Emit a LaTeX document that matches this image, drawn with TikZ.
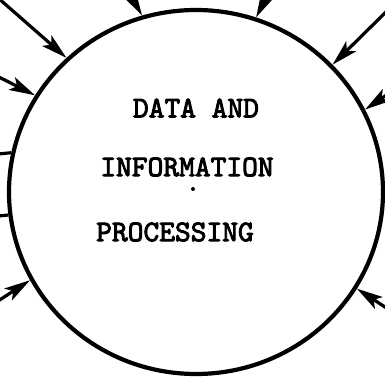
\documentclass[tikz,border=0pt]{standalone}
\usepackage{fontspec}
\usetikzlibrary{shapes.geometric,arrows.meta}
\newfontfamily\twfont[FakeBold=3]{lmmono10-regular.otf}
\begin{document}
\begin{tikzpicture}[x=1pt,y=1pt,
  ring/.style={draw, ellipse, line width=4.2pt, minimum width=374pt, minimum height=364pt, inner sep=0pt},
  arr/.style={line width=3.2pt, -{Stealth[length=26pt,width=14pt,inset=6pt]}},
  wire/.style={line width=3.2pt},
  lbl/.style={inner sep=0pt, font=\twfont\fontsize{30}{36}\selectfont}]
\useasboundingbox (0,0) rectangle (385,377);
\node[ring] (c) at (196,185) {};
\node[lbl] (t1) at (196,269) {DATA AND};
\node[lbl] (t2) at (187,210) {INFORMATION};
\node[lbl] (t3) at (175,145) {PROCESSING};
\fill (193,188) circle (2);
\coordinate (s1) at (-3,380);
\coordinate (s2) at (-4,301.4);
\coordinate (s3) at (132,379);
\coordinate (s4) at (266,379);
\coordinate (s5) at (388,367);
\coordinate (s6) at (388,283);
\coordinate (s7) at (-2,223);
\coordinate (s8) at (-2,161);
\coordinate (s9) at (-2,76);
\coordinate (s10) at (388,68);
\draw[arr] (s1) -- (c.134.3);
\draw[arr] (s2) -- (c.149.9);
\draw[arr] (s3) -- (c.107.6);
\draw[arr] (s4) -- (c.71.1);
\draw[arr] (s5) -- (c.43.3);
\draw[arr] (s6) -- (c.26.3);
\draw[wire] (s7) -- (c.168.3);
\draw[wire] (s8) -- (c.187.5);
\draw[arr] (s9) -- (c.208);
\draw[arr] (s10) -- (c.-31);
\end{tikzpicture}
\end{document}
